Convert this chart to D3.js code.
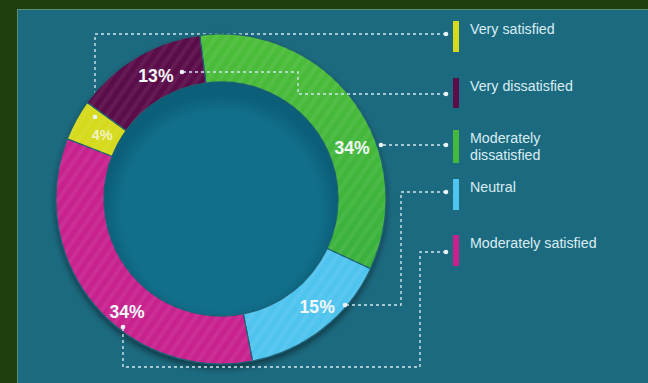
<!DOCTYPE html>
<html>
<head>
<meta charset="utf-8">
<script src="https://cdn.jsdelivr.net/npm/d3@7/dist/d3.min.js"></script>
<style>
  html, body { margin: 0; padding: 0; background: #1e3f0e; }
  svg { display: block; }
</style>
</head>
<body>
<svg id="chart" width="648" height="383"></svg>
<script>
// Survey satisfaction breakdown (percent of respondents)
const categories = ["Moderately dissatisfied", "Neutral", "Moderately satisfied", "Very satisfied", "Very dissatisfied"];
const values = [34, 15, 34, 4, 13];
const sliceColors = ["#43b83a", "#4fc4ef", "#c8208e", "#d5da1d", "#5a0d48"];

// Legend, top to bottom
const legendItems = ["Very satisfied", "Very dissatisfied", "Moderately dissatisfied", "Neutral", "Moderately satisfied"];
const legendLines = [["Very satisfied"], ["Very dissatisfied"], ["Moderately", "dissatisfied"], ["Neutral"], ["Moderately satisfied"]];

const svg = d3.select("#chart");
const W = 648, H = 383;
const cx = 221, cy = 199, rOuter = 165, rInner = 117;
const deg = Math.PI / 180;

const defs = svg.append("defs");

// diagonal sheen stripes on the ring
const pat = defs.append("pattern")
  .attr("id", "stripes").attr("patternUnits", "userSpaceOnUse")
  .attr("width", 9).attr("height", 9)
  .attr("patternTransform", "rotate(35)");
pat.append("rect").attr("width", 4).attr("height", 9).attr("fill", "#ffffff").attr("opacity", 0.06);

const shadow = defs.append("filter").attr("id", "ringShadow")
  .attr("x", "-20%").attr("y", "-20%").attr("width", "140%").attr("height", "140%");
shadow.append("feGaussianBlur").attr("in", "SourceAlpha").attr("stdDeviation", 3).attr("result", "b");
shadow.append("feOffset").attr("in", "b").attr("dx", 0).attr("dy", 4).attr("result", "o");
shadow.append("feComponentTransfer").attr("in", "o").attr("result", "s")
  .append("feFuncA").attr("type", "linear").attr("slope", 0.45);
const merge = shadow.append("feMerge");
merge.append("feMergeNode").attr("in", "s");
merge.append("feMergeNode").attr("in", "SourceGraphic");

const holeGrad = defs.append("radialGradient").attr("id", "hole")
  .attr("cx", "50%").attr("cy", "55%").attr("r", "50%");
holeGrad.append("stop").attr("offset", "0.85").attr("stop-color", "#116f8b");
holeGrad.append("stop").attr("offset", "1").attr("stop-color", "#0c5f78");

const greenGrad = defs.append("linearGradient").attr("id", "greenGrad")
  .attr("x1", 0).attr("y1", 0).attr("x2", 0).attr("y2", 1);
greenGrad.append("stop").attr("offset", 0).attr("stop-color", "#4cbd39");
greenGrad.append("stop").attr("offset", 1).attr("stop-color", "#39b13c");

// panel
svg.append("rect").attr("x", 0).attr("y", 0).attr("width", W).attr("height", H).attr("fill", "#1e3f0e");
svg.append("rect").attr("x", 17.5).attr("y", 9.5).attr("width", W).attr("height", H)
  .attr("fill", "#1c6a80").attr("stroke", "#5d8f6e").attr("stroke-width", 1);

const lineColor = "#cfe6ee";
const leaders = svg.append("g").attr("fill", "none").attr("stroke", lineColor)
  .attr("stroke-width", 1.4).attr("stroke-dasharray", "3,3");

// leader for "Very satisfied" runs under the ring
leaders.append("path").attr("d", d3.line()([[446, 34], [95, 34], [95, 110]]));

// ring
const pie = d3.pie().sort(null).value(d => d)
  .startAngle(-7.4 * deg).endAngle(-7.4 * deg + 2 * Math.PI);
const arcs = pie(values);
const arc = d3.arc().innerRadius(rInner).outerRadius(rOuter);

const ring = svg.append("g").attr("transform", `translate(${cx},${cy})`);
const ringBase = ring.append("g").attr("filter", "url(#ringShadow)");
ringBase.selectAll("path").data(arcs).join("path")
  .attr("d", arc)
  .attr("fill", (d, i) => i === 0 ? "url(#greenGrad)" : sliceColors[i])
  .attr("stroke", "#1d5f73").attr("stroke-width", 1.2);
ring.selectAll("path.sheen").data(arcs).join("path").attr("class", "sheen")
  .attr("d", arc).attr("fill", "url(#stripes)");
ring.append("circle").attr("r", rInner - 0.5).attr("fill", "url(#hole)");

// remaining leaders drawn over the ring
const paths = [
  [[446, 94], [298, 94], [298, 72], [182, 72]],
  [[446, 145], [381, 145]],
  [[446, 192], [401, 192], [401, 305], [345, 305]],
  [[446, 252], [420, 252], [420, 367], [123, 367], [123, 327]]
];
const leaders2 = svg.append("g").attr("fill", "none").attr("stroke", lineColor)
  .attr("stroke-width", 1.4).attr("stroke-dasharray", "3,3");
paths.forEach(p => leaders2.append("path").attr("d", d3.line()(p)));

const dots = [[446, 34], [95, 117], [446, 94], [182, 72], [446, 145], [381, 145], [446, 192], [345, 305], [446, 252], [123, 327]];
svg.append("g").selectAll("circle").data(dots).join("circle")
  .attr("cx", d => d[0]).attr("cy", d => d[1]).attr("r", 2.3).attr("fill", "#e8f3f6");

// percentage labels, placed by angle (deg, clockwise from top) and radius
const labelPos = {
  "Moderately dissatisfied": [68.4, 141],
  "Neutral": [138.1, 144],
  "Moderately satisfied": [220, 146],
  "Very satisfied": [298.3, 135],
  "Very dissatisfied": [-27.7, 140]
};
const labelSize = { "Very satisfied": 15 };
ring.selectAll("text.pct").data(arcs).join("text").attr("class", "pct")
  .attr("transform", (d, i) => {
    const [a, r] = labelPos[categories[i]];
    return `translate(${r * Math.sin(a * deg)},${-r * Math.cos(a * deg)}) scale(0.95,1)`;
  })
  .attr("text-anchor", "middle").attr("dy", "0.36em")
  .attr("font-family", "'Liberation Sans', Arial, sans-serif").attr("font-weight", "bold")
  .attr("font-size", (d, i) => (labelSize[categories[i]] || 18.5) + "px")
  .attr("fill", (d, i) => categories[i] === "Very satisfied" ? "#f3f3c0" : "#f4f7f8")
  .text(d => d.value + "%");

// legend
const legendY = [21, 78, 130, 179, 235];
const barH = [31, 30, 33, 31, 31];
const colorOf = c => sliceColors[categories.indexOf(c)];
const legend = svg.append("g");
legendItems.forEach((c, i) => {
  legend.append("rect").attr("x", 453).attr("y", legendY[i]).attr("width", 6).attr("height", barH[i])
    .attr("fill", colorOf(c));
  const t = legend.append("text")
    .attr("transform", `translate(470,${legendY[i] + 13}) scale(0.95,1)`)
    .attr("font-family", "'Liberation Sans', Arial, sans-serif").attr("font-size", "15px")
    .attr("fill", "#d9edf3");
  legendLines[i].forEach((s, j) => t.append("tspan").attr("x", 0).attr("y", j * 17).text(s));
});
</script>
</body>
</html>
